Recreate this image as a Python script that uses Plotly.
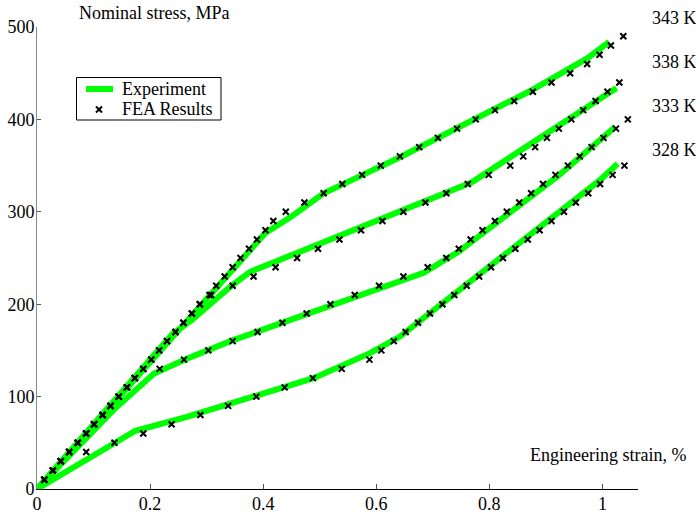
import plotly.graph_objects as go

# ---------------- data ----------------
# Experiment curves (strain %, stress MPa)
exp_343_x = [0, 0.404, 0.448, 0.507, 0.566, 0.642, 0.873, 0.973, 1.012]
exp_343_y = [0, 277, 294, 320, 337, 359, 431, 466, 484]

exp_338_x = [0, 0.24, 0.274, 0.342, 0.377, 0.769, 1.025]
exp_338_y = [0, 168, 183, 219, 235, 332, 434]

exp_333_x = [0, 0.118, 0.136, 0.207, 0.265, 0.342, 0.684, 0.746, 0.92, 1.023]
exp_333_y = [0, 75, 86, 125, 141, 160, 234, 257, 338, 392]

exp_328_x = [0, 0.136, 0.174, 0.265, 0.489, 0.589, 0.642, 0.995, 1.027]
exp_328_y = [0, 49.5, 63, 78, 120, 147, 165, 334, 352]

# FEA results
fea_343_x = [0.013, 0.028, 0.042, 0.057, 0.072, 0.087, 0.101, 0.116, 0.130, 0.1445,
             0.159, 0.173, 0.188, 0.202, 0.216, 0.230, 0.245, 0.259, 0.274, 0.288,
             0.305, 0.317, 0.332, 0.346, 0.360, 0.375, 0.389, 0.404, 0.418, 0.440,
             0.473, 0.507, 0.540, 0.575, 0.608, 0.642, 0.676, 0.709, 0.743, 0.776,
             0.810, 0.844, 0.877, 0.910, 0.943, 0.973, 0.995, 1.015, 1.037]
fea_343_y = [10, 20, 30, 40, 50, 60, 70, 80, 90, 100,
             110, 120, 130, 140, 150, 160, 170, 180, 190, 200,
             210, 220, 230, 240, 250, 260, 270, 280, 290, 300,
             310, 320, 330, 340, 350, 360, 370, 380, 390, 400,
             410, 420, 430, 440, 450, 460, 470, 480, 490]

fea_338_x = [0.013, 0.028, 0.042, 0.057, 0.072, 0.087, 0.101, 0.116, 0.130, 0.1445,
             0.159, 0.173, 0.188, 0.202, 0.216, 0.230, 0.245, 0.259, 0.274, 0.288,
             0.308, 0.346, 0.383, 0.422, 0.460, 0.497, 0.535, 0.573, 0.611, 0.648,
             0.687, 0.724, 0.762, 0.799, 0.837, 0.860, 0.881, 0.902, 0.923, 0.945,
             0.966, 0.988, 1.009, 1.030]
fea_338_y = [10, 20, 30, 40, 50, 60, 70, 80, 90, 100,
             110, 120, 130, 140, 150, 160, 170, 180, 190, 200,
             210, 220, 230, 240, 250, 260, 270, 280, 290, 300,
             310, 320, 330, 340, 350, 360, 370, 380, 390, 400,
             410, 420, 430, 440]

fea_333_x = [0.013, 0.028, 0.042, 0.057, 0.072, 0.087, 0.101, 0.116, 0.130, 0.1445,
             0.159, 0.173, 0.217, 0.260, 0.303, 0.346, 0.390, 0.434, 0.477, 0.519,
             0.562, 0.605, 0.648, 0.691, 0.724, 0.746, 0.767, 0.788, 0.810, 0.831,
             0.853, 0.874, 0.895, 0.917, 0.939, 0.960, 0.981, 1.002, 1.024, 1.045]
fea_333_y = [10, 20, 30, 40, 50, 60, 70, 80, 90, 100,
             110, 120, 130, 140, 150, 160, 170, 180, 190, 200,
             210, 220, 230, 240, 250, 260, 270, 280, 290, 300,
             310, 320, 330, 340, 350, 360, 370, 380, 390, 400]

fea_328_x = [0.087, 0.137, 0.188, 0.238, 0.289, 0.338, 0.388, 0.438, 0.488, 0.539,
             0.588, 0.609, 0.631, 0.652, 0.674, 0.695, 0.717, 0.738, 0.760, 0.782,
             0.803, 0.824, 0.846, 0.868, 0.889, 0.910, 0.932, 0.953, 0.975, 0.996,
             1.018, 1.039]
fea_328_y = [40, 50, 60, 70, 80, 90, 100, 110, 120, 130,
             140, 150, 160, 170, 180, 190, 200, 210, 220, 230,
             240, 250, 260, 270, 280, 290, 300, 310, 320, 330,
             340, 350]

temp_labels = ["343 K", "338 K", "333 K", "328 K"]
legend_labels = ["Experiment", "FEA Results"]
x_ticks = [0, 0.2, 0.4, 0.6, 0.8, 1]
x_tick_text = ["0", "0.2", "0.4", "0.6", "0.8", "1"]
y_ticks = [0, 100, 200, 300, 400, 500]

# ---------------- figure ----------------
FONT = "Liberation Serif"
GREEN = "#00ff00"

fig = go.Figure()
exps = [(exp_343_x, exp_343_y), (exp_338_x, exp_338_y),
        (exp_333_x, exp_333_y), (exp_328_x, exp_328_y)]
feas = [(fea_343_x, fea_343_y), (fea_338_x, fea_338_y),
        (fea_333_x, fea_333_y), (fea_328_x, fea_328_y)]

for ex, ey in exps:
    fig.add_trace(go.Scatter(x=ex, y=ey, mode="lines",
                             line=dict(color=GREEN, width=6),
                             name=legend_labels[0], showlegend=False))
for fx, fy in feas:
    fig.add_trace(go.Scatter(x=fx, y=fy, mode="markers",
                             marker=dict(symbol="x-thin", size=6, color="black",
                                         line=dict(color="black", width=2)),
                             name=legend_labels[1], showlegend=False))

W, H = 696, 513
L, R, T, B = 37, 58, 27, 24
pw = W - L - R
ph = H - T - B

def px2x(px):
    return (px - L) / pw

def py2y(py):
    return (H - B - py) / ph

tf = dict(size=18, color="black", family=FONT)
annotations = [
    dict(text="Nominal stress, MPa", xref="paper", yref="paper",
         x=px2x(77), y=py2y(13), xanchor="left", yanchor="middle",
         showarrow=False, font=tf),
    dict(text="Engineering strain, %", xref="paper", yref="paper",
         x=px2x(688), y=py2y(455), xanchor="right", yanchor="middle",
         showarrow=False, font=tf),
]
for lab, py in zip(temp_labels, [18, 62, 106, 150]):
    annotations.append(dict(text=lab, xref="paper", yref="paper",
                            x=px2x(650), y=py2y(py),
                            xanchor="left", yanchor="middle", showarrow=False,
                            font=tf))

# legend box drawn in paper coordinates
annotations.append(dict(text=legend_labels[0], xref="paper", yref="paper",
                        x=px2x(120), y=py2y(89), xanchor="left", yanchor="middle",
                        showarrow=False, font=tf))
annotations.append(dict(text=legend_labels[1], xref="paper", yref="paper",
                        x=px2x(120), y=py2y(109), xanchor="left", yanchor="middle",
                        showarrow=False, font=tf))

cx, cy, hs = 99, 109.5, 3
shapes = [
    dict(type="rect", xref="paper", yref="paper",
         x0=px2x(76.5), x1=px2x(221), y0=py2y(120), y1=py2y(77.5),
         line=dict(color="black", width=1), fillcolor="white", layer="above"),
    dict(type="line", xref="paper", yref="paper",
         x0=px2x(86), x1=px2x(113), y0=py2y(89), y1=py2y(89),
         line=dict(color=GREEN, width=6), layer="above"),
    dict(type="line", xref="paper", yref="paper",
         x0=px2x(cx - hs), x1=px2x(cx + hs), y0=py2y(cy - hs), y1=py2y(cy + hs),
         line=dict(color="black", width=2), layer="above"),
    dict(type="line", xref="paper", yref="paper",
         x0=px2x(cx - hs), x1=px2x(cx + hs), y0=py2y(cy + hs), y1=py2y(cy - hs),
         line=dict(color="black", width=2), layer="above"),
]

fig.update_layout(
    width=W, height=H,
    margin=dict(l=L, r=R, t=T, b=B, pad=0, autoexpand=False),
    paper_bgcolor="white", plot_bgcolor="white",
    font=dict(family=FONT, size=18, color="black"),
    showlegend=False,
    xaxis=dict(range=[0, 1.063], showgrid=False, zeroline=False, automargin=False,
               showline=True, linecolor="black", linewidth=1,
               ticks="inside", ticklen=5, tickcolor="#555", tickwidth=1,
               tickvals=x_ticks, ticktext=x_tick_text, tickfont=tf,
               ticklabelstandoff=-2),
    yaxis=dict(range=[0, 500], showgrid=False, zeroline=False, automargin=False,
               showline=True, linecolor="#888", linewidth=1,
               ticks="inside", ticklen=4, tickcolor="#555", tickwidth=1,
               tickvals=y_ticks, tickfont=tf, ticklabelstandoff=-2),
    annotations=annotations,
    shapes=shapes,
)

fig.write_html("out.html")
